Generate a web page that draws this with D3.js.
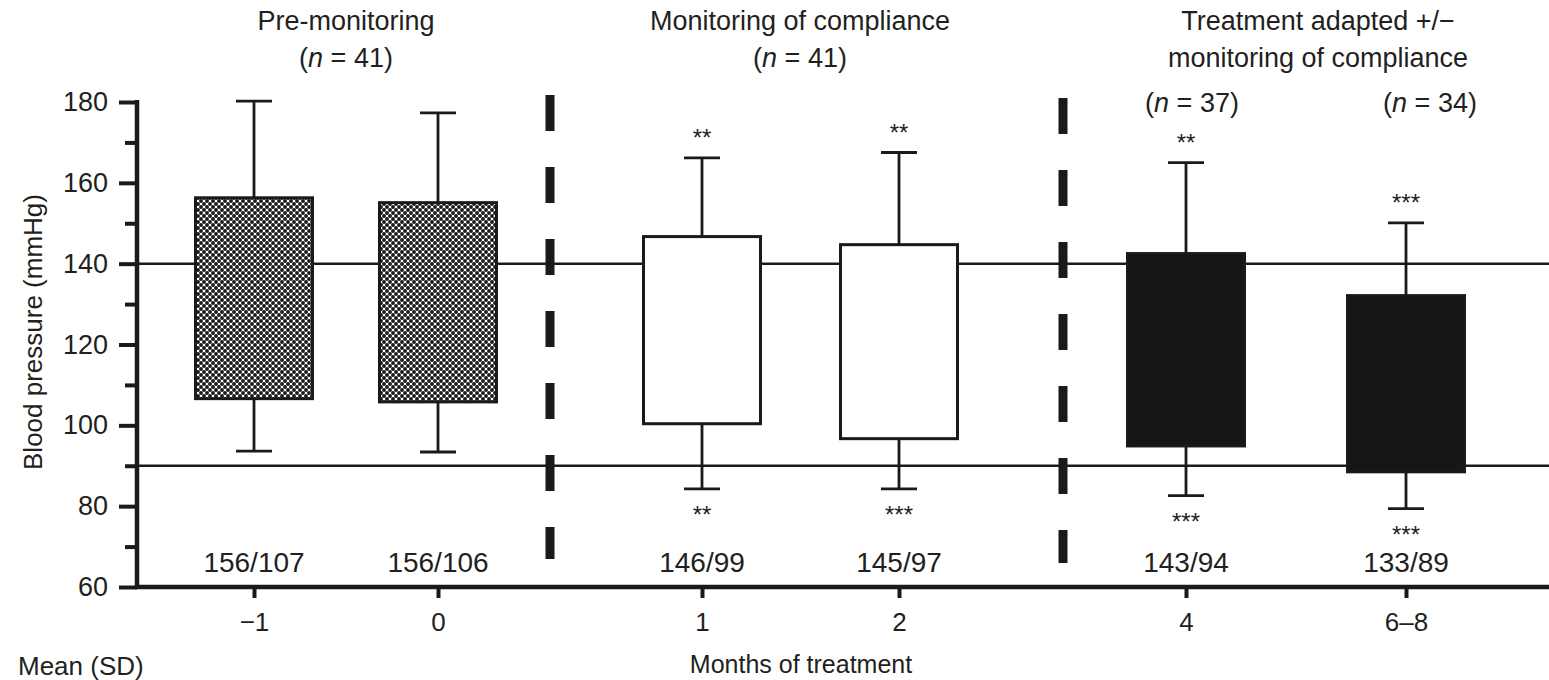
<!DOCTYPE html>
<html>
<head>
<meta charset="utf-8">
<script src="https://d3js.org/d3.v7.min.js"></script>
<style>
  body { margin: 0; background: #fff; }
  text { font-family: "Liberation Sans", Arial, Helvetica, sans-serif; fill: #231f20; }
</style>
</head>
<body>
<div id="vis"></div>

<script>
  // values
  var months = ['\u22121', '0', '1', '2', '4', '6\u20138'];
  var meanLabels = ['156/107', '156/106', '146/99', '145/97', '143/94', '133/89'];
  var boxTop = [156.3, 155.1, 146.7, 144.7, 142.5, 132.1];      // mean systolic
  var boxBottom = [106.6, 105.8, 100.4, 96.7, 94.9, 88.5];      // mean diastolic
  var sdTop = [180.2, 177.3, 166.2, 167.5, 165.0, 150.1];       // systolic + SD
  var sdBottom = [93.6, 93.4, 84.3, 84.3, 82.6, 79.4];          // diastolic - SD
  var phase = ['pre', 'pre', 'monitor', 'monitor', 'adapted', 'adapted'];
  var starsAbove = ['', '', '**', '**', '**', '***'];
  var starsBelow = ['', '', '**', '***', '***', '***'];
  var yTicks = [60, 80, 100, 120, 140, 160, 180];
  var yMinor = [70, 90, 110, 130, 150, 170];
  var refLines = [140, 90];
  var subN = [37, 34];

  var data = months.map(function(m, i) {
    return { month: m, top: boxTop[i], bottom: boxBottom[i], hi: sdTop[i], lo: sdBottom[i],
             phase: phase[i], above: starsAbove[i], below: starsBelow[i], label: meanLabels[i] };
  });

  var width = 1549, height = 680;
  var axisX = 137;
  var boxW = 117;
  var capW = 36;

  var svg = d3.select('#vis')
    .append('svg')
    .attr('width', width)
    .attr('height', height);

  var defs = svg.append('defs');
  var pat = defs.append('pattern')
    .attr('id', 'dots')
    .attr('patternUnits', 'userSpaceOnUse')
    .attr('width', 6)
    .attr('height', 6);
  pat.append('rect').attr('width', 6).attr('height', 6).attr('fill', '#fff');
  [[0, 0], [6, 0], [0, 6], [6, 6], [3, 3]].forEach(function(p) {
    pat.append('circle').attr('cx', p[0]).attr('cy', p[1]).attr('r', 1.95).attr('fill', '#1a1a1a');
  });

  var y = d3.scaleLinear()
    .domain([60, 180])
    .range([587, 102]);

  var x = d3.scaleOrdinal()
    .domain(months)
    .range([254, 438, 702, 899, 1186, 1406]);

  // reference lines at 140 and 90
  svg.selectAll('.ref')
    .data(refLines)
    .enter()
    .append('line')
    .attr('x1', axisX)
    .attr('x2', width)
    .attr('y1', function(d) { return y(d); })
    .attr('y2', function(d) { return y(d); })
    .attr('stroke', '#1a1a1a')
    .attr('stroke-width', 2.5);

  // dashed separators
  var dividers = [[550, 95, 559], [1063, 98, 563]];
  svg.selectAll('.divider')
    .data(dividers)
    .enter()
    .append('line')
    .attr('x1', function(d) { return d[0]; })
    .attr('x2', function(d) { return d[0]; })
    .attr('y1', function(d) { return d[1]; })
    .attr('y2', function(d) { return d[2]; })
    .attr('stroke', '#1a1a1a')
    .attr('stroke-width', 9)
    .attr('stroke-dasharray', '36,36');

  // whiskers
  var g = svg.append('g');
  g.selectAll('.whisk')
    .data(data)
    .enter()
    .append('path')
    .attr('d', function(d) {
      var cx = x(d.month);
      return 'M' + cx + ',' + y(d.top) + 'V' + y(d.hi) +
        'M' + (cx - capW / 2) + ',' + y(d.hi) + 'H' + (cx + capW / 2) +
        'M' + cx + ',' + y(d.bottom) + 'V' + y(d.lo) +
        'M' + (cx - capW / 2) + ',' + y(d.lo) + 'H' + (cx + capW / 2);
    })
    .attr('fill', 'none')
    .attr('stroke', '#1a1a1a')
    .attr('stroke-width', 2.8);

  // boxes
  g.selectAll('.box')
    .data(data)
    .enter()
    .append('rect')
    .attr('x', function(d) { return x(d.month) - boxW / 2; })
    .attr('y', function(d) { return y(d.top); })
    .attr('width', boxW)
    .attr('height', function(d) { return y(d.bottom) - y(d.top); })
    .attr('fill', function(d) {
      return d.phase == 'pre' ? 'url(#dots)' : (d.phase == 'monitor' ? '#fff' : '#161616');
    })
    .attr('stroke', '#1a1a1a')
    .attr('stroke-width', 3);

  // asterisks
  g.selectAll('.above')
    .data(data)
    .enter()
    .append('text')
    .attr('x', function(d) { return x(d.month); })
    .attr('y', function(d) { return y(d.hi) - 12; })
    .attr('text-anchor', 'middle')
    .style('font-size', '24px')
    .text(function(d) { return d.above; });

  g.selectAll('.below')
    .data(data)
    .enter()
    .append('text')
    .attr('x', function(d) { return x(d.month); })
    .attr('y', function(d) { return y(d.lo) + 34; })
    .attr('text-anchor', 'middle')
    .style('font-size', '24px')
    .text(function(d) { return d.below; });

  // mean (SD) labels
  g.selectAll('.mean')
    .data(data)
    .enter()
    .append('text')
    .attr('x', function(d) { return x(d.month); })
    .attr('y', 572)
    .attr('text-anchor', 'middle')
    .style('font-size', '28px')
    .text(function(d) { return d.label; });

  // y axis
  var yAxis = svg.append('g')
    .attr('transform', 'translate(' + axisX + ',0)')
    .call(d3.axisLeft(y).tickValues(yTicks).tickSize(18).tickPadding(11));
  yAxis.select('.domain').remove();
  yAxis.selectAll('.tick line').attr('stroke', '#1a1a1a').attr('stroke-width', 4);
  yAxis.selectAll('.tick text').style('font-size', '27px').attr('fill', '#231f20')
    .style('font-family', '"Liberation Sans", Arial, sans-serif');

  var yMinorAxis = svg.append('g')
    .attr('transform', 'translate(' + axisX + ',0)')
    .call(d3.axisLeft(y).tickValues(yMinor).tickSize(12).tickFormat(''));
  yMinorAxis.select('.domain').remove();
  yMinorAxis.selectAll('.tick line').attr('stroke', '#1a1a1a').attr('stroke-width', 4);

  svg.append('line')
    .attr('x1', axisX).attr('x2', axisX)
    .attr('y1', 100).attr('y2', 589)
    .attr('stroke', '#1a1a1a')
    .attr('stroke-width', 4.5);

  // x axis
  var xAxis = svg.append('g')
    .attr('transform', 'translate(0,' + y(60) + ')')
    .call(d3.axisBottom(x).tickSize(11).tickPadding(15));
  xAxis.select('.domain').remove();
  xAxis.selectAll('.tick line').attr('stroke', '#1a1a1a').attr('stroke-width', 4);
  xAxis.selectAll('.tick text').style('font-size', '26px').attr('fill', '#231f20')
    .style('font-family', '"Liberation Sans", Arial, sans-serif');

  svg.append('line')
    .attr('x1', axisX - 2).attr('x2', width)
    .attr('y1', y(60)).attr('y2', y(60))
    .attr('stroke', '#1a1a1a')
    .attr('stroke-width', 4.5);

  // axis titles
  svg.append('text')
    .attr('transform', 'rotate(-90)')
    .attr('x', -332)
    .attr('y', 42)
    .attr('text-anchor', 'middle')
    .style('font-size', '26px')
    .text('Blood pressure (mmHg)');

  svg.append('text')
    .attr('x', 801)
    .attr('y', 673)
    .attr('text-anchor', 'middle')
    .style('font-size', '25px')
    .text('Months of treatment');

  svg.append('text')
    .attr('x', 18)
    .attr('y', 675)
    .style('font-size', '26px')
    .text('Mean (SD)');

  // phase headings
  function nLabel(sel, n) {
    sel.append('tspan').text('(');
    sel.append('tspan').style('font-style', 'italic').text('n');
    sel.append('tspan').text(' = ' + n + ')');
  }

  var headings = [
    { x: 346, lines: ['Pre-monitoring'], n: 41 },
    { x: 800, lines: ['Monitoring of compliance'], n: 41 },
    { x: 1318, lines: ['Treatment adapted +/\u2212', 'monitoring of compliance'], n: null }
  ];
  headings.forEach(function(h) {
    h.lines.forEach(function(l, i) {
      svg.append('text')
        .attr('x', h.x)
        .attr('y', 30 + i * 37)
        .attr('text-anchor', 'middle')
        .style('font-size', '27px')
        .text(l);
    });
    if (h.n !== null) {
      var t = svg.append('text')
        .attr('x', h.x)
        .attr('y', 67)
        .attr('text-anchor', 'middle')
        .style('font-size', '27px');
      nLabel(t, h.n);
    }
  });

  var nShift = [6, 24];
  ['4', '6\u20138'].forEach(function(m, i) {
    var t = svg.append('text')
      .attr('x', x(m) + nShift[i])
      .attr('y', 112)
      .attr('text-anchor', 'middle')
      .style('font-size', '27px');
    nLabel(t, subN[i]);
  });
</script>
</body>
</html>
